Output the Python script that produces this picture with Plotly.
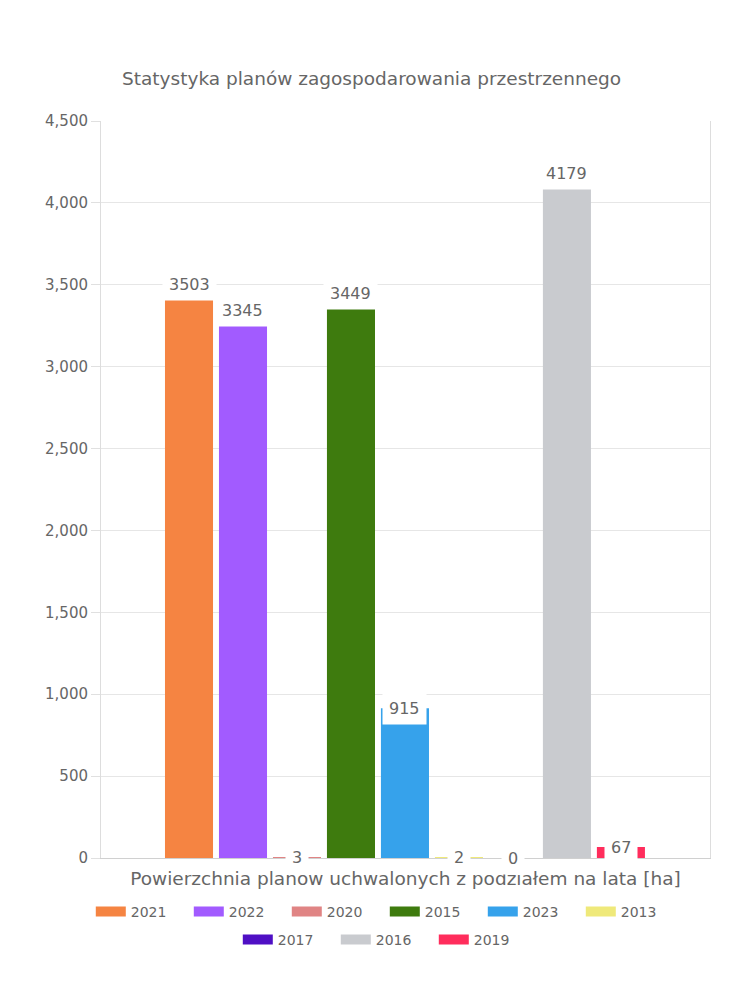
import plotly.graph_objects as go

# Data
years = ["2021", "2022", "2020", "2015", "2023", "2013", "2017", "2016", "2019"]
area_ha = [3503, 3345, 3, 3449, 915, 2, 0, 4179, 67]
colors = ["#F58442", "#A25BFF", "#E08484", "#3E7B0E", "#36A2EB",
          "#EFE97A", "#4F0FC4", "#C9CBCF", "#FF2D5C"]
second_row = ["2017", "2016", "2019"]

title = "Statystyka planów zagospodarowania przestrzennego"
x_title = "Powierzchnia planow uchwalonych z podziałem na lata [ha]"

font = "DejaVu Sans"
grey = "#666666"

fig = go.Figure()

# One bar per year, side by side
for i, (year, val, col) in enumerate(zip(years, area_ha, colors)):
    fig.add_trace(go.Bar(
        x=[i], y=[val], name=year, width=0.89,
        marker=dict(color=col, line_width=0), showlegend=False,
    ))
    # legend-only entry so the swatch is a wide block like the original
    fig.add_trace(go.Scatter(
        x=[None], y=[None], mode="lines", name=year,
        line=dict(color=col, width=18),
        legend="legend2" if year in second_row else "legend",
    ))
    # value label in a white box sitting on the bar top
    fig.add_annotation(
        x=i, y=val, text=str(val), showarrow=False,
        xanchor="center", yanchor="middle",
        bgcolor="white", borderpad=6,
        font=dict(family=font, size=16, color=grey),
    )

legend_style = dict(
    orientation="h", xanchor="center", x=0.466, yanchor="middle",
    font=dict(family=font, size=14, color=grey), entrywidth=53,
    bgcolor="rgba(0,0,0,0)",
)

fig.update_layout(
    width=742, height=992,
    margin=dict(l=93, r=40, t=113, b=142),
    paper_bgcolor="white", plot_bgcolor="white",
    barmode="overlay",
    title=dict(text=title, x=0.49, xanchor="center", y=0.929, yanchor="middle",
               font=dict(family=font, size=18.5, color=grey)),
    legend=dict(legend_style, y=-0.0733),
    legend2=dict(legend_style, y=-0.111),
    showlegend=True,
)

fig.update_xaxes(
    range=[-1.63, 9.65], showticklabels=False, ticks="",
    showgrid=False, zeroline=False,
    showline=True, linecolor="#d0d0d0", linewidth=1,
    title=dict(text=x_title, standoff=14,
               font=dict(family=font, size=18.5, color=grey)),
)

fig.update_yaxes(
    range=[0, 4500], dtick=500, tickformat=",",
    tickfont=dict(family=font, size=15, color=grey),
    ticks="outside", ticklen=9, tickcolor="#e0e0e0",
    gridcolor="#e6e6e6", zeroline=False,
    showline=True, mirror=True, linecolor="#dddddd", linewidth=1,
)

fig.write_html("out.html")
